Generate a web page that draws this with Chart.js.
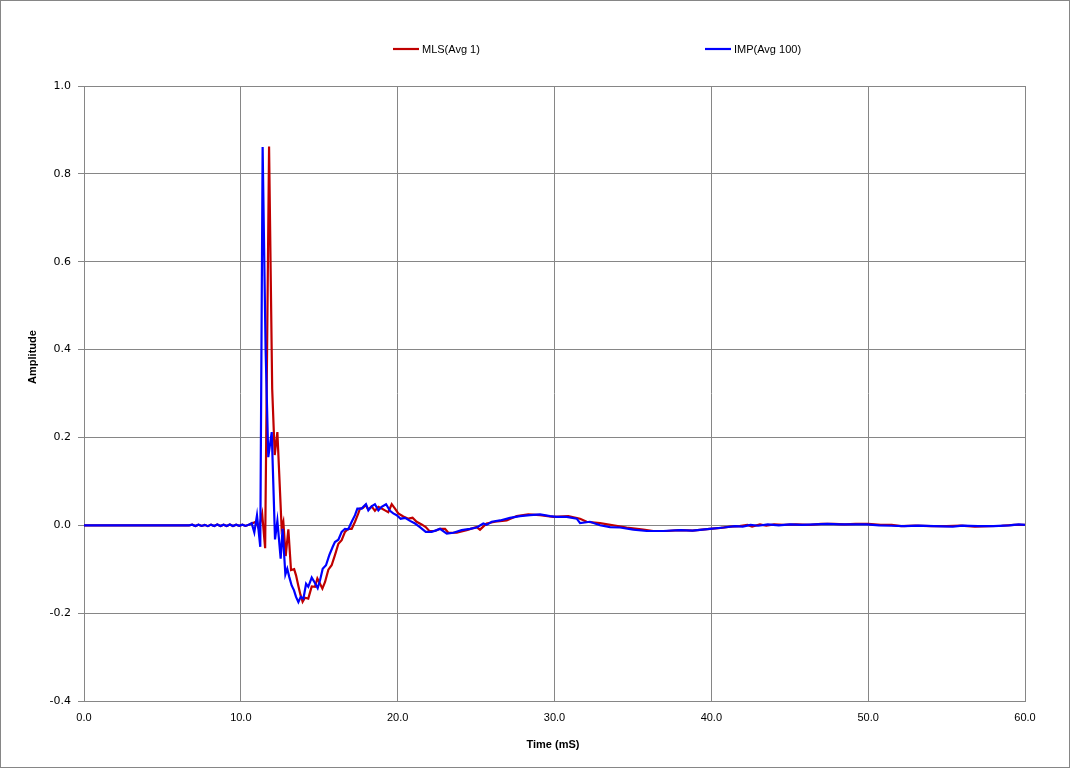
<!DOCTYPE html>
<html>
<head>
<meta charset="utf-8">
<script src="https://cdn.jsdelivr.net/npm/chart.js@4.4.1/dist/chart.umd.min.js"></script>
<style>
  html, body { margin: 0; padding: 0; background: #fff; }
  #wrap { position: relative; width: 1070px; height: 768px; box-sizing: border-box; border: 1px solid #868686; background: #fff; }
  canvas { display: block; }
</style>
</head>
<body>
<div id="wrap"><canvas id="c" width="1068" height="766"></canvas></div>
<script>
const seriesNames = ["MLS(Avg 1)", "IMP(Avg 100)"];
const xTicks = [0, 10, 20, 30, 40, 50, 60];
const yTicks = [-0.4, -0.2, 0.0, 0.2, 0.4, 0.6, 0.8, 1.0];
const xTitle = "Time (mS)";
const yTitle = "Amplitude";

const mlsTime = [0, 6.7, 6.9, 7.1, 7.3, 7.5, 7.7, 7.9, 8.1, 8.3, 8.5, 8.7, 8.9, 9.1, 9.3, 9.5, 9.7, 9.9, 10.1, 10.3, 10.5,
  10.7, 10.97, 11.15, 11.36, 11.55, 11.80, 12.0, 12.16, 12.33, 12.60, 12.71, 12.86, 13.03, 13.20, 13.40, 13.52, 13.68, 13.80, 13.94,
  14.09, 14.30, 14.52, 14.73, 14.88, 15.05, 15.20, 15.37, 15.58, 15.79, 16.00, 16.22, 16.43, 16.64, 16.85, 17.07, 17.28, 17.49, 17.60,
  17.80, 17.96, 18.13, 18.34, 18.55, 18.77, 18.98, 19.19, 19.40, 19.62, 19.83, 20.04, 20.36, 20.68, 20.95, 21.21, 21.53, 21.79, 22.02,
  22.38, 22.70, 23.02, 23.23, 23.77, 24.40, 25.04, 25.25, 25.67, 26.21, 26.95, 27.59, 28.33, 29.08, 29.93, 30.88, 31.63, 32.05, 32.90,
  33.75, 34.60, 35.66, 36.30, 37.15, 38.0, 38.8, 39.9, 40.6, 41.2, 41.8, 42.3, 42.6, 43.1, 43.5, 44.0, 44.6, 45.4, 46.3, 47.0, 47.8,
  48.5, 49.2, 50.0, 50.8, 51.5, 52.1, 53.0, 54.0, 55.0, 55.9, 56.8, 57.7, 58.5, 59.3, 60.0];
const mlsAmp = [0, 0, 0.0015, -0.0015, 0.0015, -0.0015, 0.001, -0.002, 0.0015, -0.0015, 0.002, -0.0015, 0.0015, -0.0015, 0.002, -0.0015, 0.0015, -0.001, 0.0015, -0.0015, 0.001,
  0.004, 0.008, -0.008, 0.026, -0.052, 0.862, 0.31, 0.160, 0.212, -0.006, 0.008, -0.070, -0.009, -0.102, -0.100, -0.114, -0.140, -0.158, -0.174,
  -0.165, -0.167, -0.139, -0.140, -0.121, -0.133, -0.144, -0.129, -0.101, -0.091, -0.068, -0.042, -0.034, -0.015, -0.008, -0.008, 0.008, 0.027, 0.038,
  0.040, 0.046, 0.036, 0.043, 0.033, 0.042, 0.038, 0.034, 0.030, 0.048, 0.038, 0.027, 0.020, 0.015, 0.017, 0.008, 0.002, -0.004, -0.013,
  -0.013, -0.008, -0.008, -0.017, -0.017, -0.011, -0.004, -0.010, 0.004, 0.008, 0.011, 0.021, 0.025, 0.023, 0.019, 0.021, 0.015, 0.008, 0.005,
  0.000, -0.005, -0.010, -0.013, -0.013, -0.011, -0.012, -0.008, -0.006, -0.003, -0.002, 0.001, -0.003, 0.002, -0.001, 0.002, 0.001, 0.002, 0.001, 0.003, 0.003,
  0.002, 0.003, 0.003, 0.001, 0.001, -0.002, -0.001, -0.002, -0.002, -0.001, -0.003, -0.002, -0.001, 0.001, 0.001];

const impTime = [0, 6.7, 6.9, 7.1, 7.3, 7.5, 7.7, 7.9, 8.1, 8.3, 8.5, 8.7, 8.9, 9.1, 9.3, 9.5, 9.7, 9.9, 10.1, 10.3, 10.5,
  10.69, 10.86, 11.03, 11.24, 11.39, 11.58, 11.75, 11.97, 12.18, 12.33, 12.54, 12.66, 12.84, 12.96, 13.09, 13.24, 13.39, 13.52, 13.67,
  13.82, 13.99, 14.16, 14.30, 14.52, 14.69, 14.90, 15.05, 15.22, 15.43, 15.64, 15.86, 16.00, 16.22, 16.43, 16.64, 16.85, 17.07, 17.28,
  17.43, 17.71, 17.81, 17.98, 18.13, 18.34, 18.55, 18.77, 18.98, 19.26, 19.51, 19.72, 19.94, 20.19, 20.47, 20.79, 21.11, 21.42, 21.79,
  22.17, 22.49, 22.70, 23.13, 23.55, 24.08, 24.61, 25.04, 25.46, 25.67, 26.0, 26.53, 27.16, 27.80, 28.44, 29.08, 29.71, 30.14, 30.78,
  31.42, 31.63, 32.26, 32.90, 33.54, 34.18, 35.03, 35.88, 36.94, 38.0, 38.8, 39.9, 40.8, 41.5, 42.0, 42.5, 43.0, 43.6, 44.3, 45.0,
  45.8, 46.6, 47.4, 48.2, 49.0, 49.9, 50.7, 51.5, 52.3, 53.2, 54.2, 55.4, 56.0, 57.0, 58.0, 59.0, 59.6, 60.0];
const impAmp = [0, 0, 0.0015, -0.0015, 0.0015, -0.0015, 0.001, -0.002, 0.0015, -0.0015, 0.002, -0.0015, 0.0015, -0.0015, 0.002, -0.0015, 0.0015, -0.001, 0.0015, -0.0015, 0.001,
  0.005, -0.016, 0.023, -0.049, 0.861, 0.40, 0.155, 0.212, -0.032, 0.010, -0.076, -0.008, -0.112, -0.099, -0.118, -0.137, -0.148, -0.163, -0.175,
  -0.163, -0.167, -0.133, -0.140, -0.119, -0.129, -0.143, -0.125, -0.099, -0.091, -0.068, -0.049, -0.038, -0.033, -0.015, -0.008, -0.009, 0.008, 0.023,
  0.038, 0.038, 0.042, 0.048, 0.034, 0.043, 0.048, 0.034, 0.042, 0.048, 0.033, 0.027, 0.023, 0.015, 0.017, 0.010, 0.004, -0.004, -0.015,
  -0.015, -0.011, -0.008, -0.019, -0.017, -0.011, -0.008, -0.005, 0.004, 0.001, 0.008, 0.011, 0.017, 0.021, 0.023, 0.025, 0.021, 0.019, 0.019,
  0.015, 0.005, 0.008, 0.000, -0.004, -0.005, -0.010, -0.013, -0.013, -0.011, -0.012, -0.008, -0.005, -0.002, -0.003, 0.001, -0.001, 0.002, 0.000, 0.002,
  0.001, 0.002, 0.003, 0.002, 0.002, 0.002, 0.000, -0.001, -0.002, -0.001, -0.002, -0.003, -0.001, -0.002, -0.002, 0.000, 0.002, 0.001];

const colors = ["#C00000", "#0000FF"];
const gridColor = "#868686";

function pts(xs, ys) { return xs.map((x, i) => ({ x: x, y: ys[i] })); }

// Custom legend and axis titles drawn on the canvas (page coords minus 1px border)
const decor = {
  id: 'decor',
  afterDraw(chart) {
    const ctx = chart.ctx;
    ctx.save();
    const items = [{ x: 392, name: seriesNames[0], color: colors[0] }, { x: 704, name: seriesNames[1], color: colors[1] }];
    ctx.font = "11px 'Liberation Sans', Arial, sans-serif";
    ctx.textBaseline = 'middle';
    ctx.textAlign = 'left';
    items.forEach(it => {
      ctx.strokeStyle = it.color;
      ctx.lineWidth = 2.2;
      ctx.beginPath();
      ctx.moveTo(it.x, 48);
      ctx.lineTo(it.x + 26, 48);
      ctx.stroke();
      ctx.fillStyle = '#000';
      ctx.fillText(it.name, it.x + 29, 49);
    });
    ctx.font = "bold 11px 'Liberation Sans', Arial, sans-serif";
    ctx.textAlign = 'center';
    ctx.fillText(xTitle, 552, 744);
    ctx.translate(32, 356);
    ctx.rotate(-Math.PI / 2);
    ctx.fillText(yTitle, 0, 0);
    ctx.restore();
  }
};

new Chart(document.getElementById('c'), {
  type: 'line',
  data: {
    datasets: [
      { label: seriesNames[0], data: pts(mlsTime, mlsAmp), borderColor: colors[0], borderWidth: 2.2, pointRadius: 0, tension: 0, fill: false, order: 1 },
      { label: seriesNames[1], data: pts(impTime, impAmp), borderColor: colors[1], borderWidth: 2.2, pointRadius: 0, tension: 0, fill: false, order: 0 }
    ]
  },
  options: {
    responsive: false,
    animation: false,
    devicePixelRatio: 1,
    layout: { padding: { top: 85, right: 44, left: 0, bottom: 0 } },
    plugins: { legend: { display: false }, tooltip: { enabled: false } },
    scales: {
      x: {
        type: 'linear', min: 0, max: 60,
        afterBuildTicks: s => { s.ticks = xTicks.map(v => ({ value: v })); },
        afterFit: s => { s.height = 66; },
        ticks: { padding: 10, color: '#000', font: { family: "'Liberation Sans', Arial, sans-serif", size: 11 }, callback: v => Number(v).toFixed(1), maxRotation: 0 },
        grid: { color: gridColor, lineWidth: 1, drawTicks: false },
        border: { color: gridColor, width: 1 }
      },
      y: {
        type: 'linear', min: -0.4, max: 1.0,
        afterBuildTicks: s => { s.ticks = yTicks.map(v => ({ value: v })); },
        afterFit: s => { s.width = 83; },
        ticks: { padding: 7, color: '#000', font: { family: "'DejaVu Sans', Verdana, sans-serif", size: 11 }, callback: v => Number(v).toFixed(1) },
        grid: { color: gridColor, lineWidth: 1, tickLength: 6, tickColor: gridColor },
        border: { color: gridColor, width: 1 }
      }
    }
  },
  plugins: [decor]
});
</script>
</body>
</html>
